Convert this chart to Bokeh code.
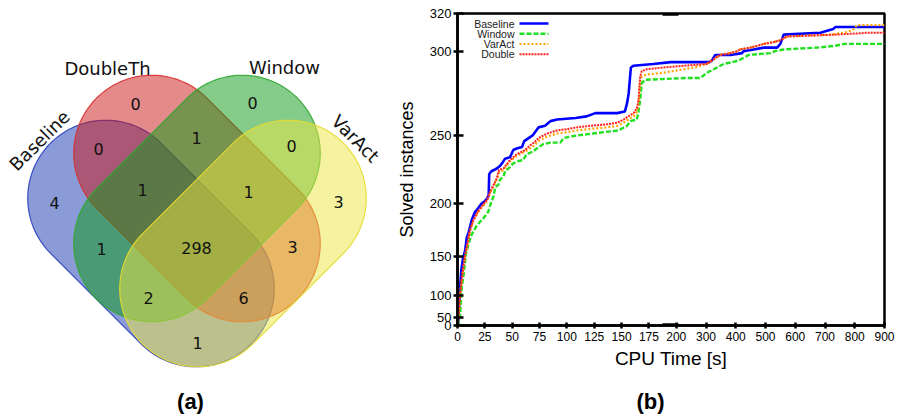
import numpy as np
from bokeh.plotting import figure
from bokeh.layouts import row, column
from bokeh.models import Range1d, FixedTicker, CustomJSTickFormatter, ColumnDataSource
from bokeh.core.properties import value
from bokeh.embed import file_html
from bokeh.resources import INLINE

# ---------------- data: Venn diagram (a) ----------------
set_names = ["Baseline", "DoubleTh", "Window", "VarAct"]
region_keys = ["B", "D", "W", "V", "BD", "DW", "WV", "BDW", "DWV", "BW", "BDWV", "DV", "BWV", "BDV", "BV"]
region_counts = [4, 0, 0, 3, 0, 1, 0, 1, 1, 1, 298, 3, 2, 6, 1]

# ---------------- data: cactus plot (b) ----------------
baseline_t = [0, 0.5, 1, 2, 2.5, 3.5, 5, 7, 8.5, 10, 13, 16, 18, 19.5, 22, 25, 27, 28.5, 29, 31,
              36, 39, 41, 43.5, 48, 51, 54, 59, 61, 65, 67, 69, 71, 74, 80, 85, 91, 108, 118, 126,
              146, 153, 155, 156.5, 158.5, 161, 179, 195, 311, 320, 331, 382, 421, 426, 460, 494, 539, 550, 561, 685,
              707, 728, 735, 900]
baseline_n = [0, 20, 50, 100, 115, 135, 148, 157, 170, 174, 186, 193, 195, 197, 200, 202, 204, 207, 223, 225,
              227, 229, 231, 234, 235, 240, 241, 242, 246, 248, 249, 250, 252, 255, 256, 259, 260, 261, 262, 264,
              264, 265, 270, 276, 291, 292, 293, 294, 294, 295, 298, 298, 299, 300, 301, 302, 302, 304, 309, 310,
              311, 312, 313, 313]

window_t = [0, 0.5, 1, 2.3, 3.2, 4, 5.3, 6.5, 8, 10, 13, 17.5, 24, 28, 30, 33, 34.5, 37.5, 39, 42,
            43.5, 48, 50, 54, 60, 63, 69, 72.5, 78.5, 85, 94, 97, 103, 112, 124, 135, 147, 155, 158, 164,
            165.5, 167, 168.5, 171.5, 236, 281, 303, 326, 337, 360, 388, 410, 444, 516, 530, 561, 673, 735, 764, 900]
window_n = [0, 15, 35, 52, 90, 115, 125, 140, 155, 163, 173, 181, 188, 193, 199, 206, 213, 215, 219, 221,
            225, 228, 230, 232, 233, 237, 239, 241, 244, 245, 245, 248, 249, 250, 251, 252, 253, 256, 259, 260,
            265, 272, 282, 284, 285, 285, 288, 290, 291, 293, 294, 295, 298, 299, 300, 301, 302, 303, 304, 304]

varact_t = [0, 1, 2.3, 3.8, 5.5, 7, 8.4, 11.4, 14.5, 19, 25, 27, 30, 31.3, 36, 38, 42, 48, 54, 62,
            66, 70, 74, 82, 91, 101, 109, 121, 137, 146, 152, 156, 161, 164, 165.5, 167, 168.5, 173, 188, 225,
            260, 303, 320, 348, 382, 404, 415, 449, 472, 494, 528, 550, 561, 573, 720, 763, 786, 797, 808, 900]
varact_n = [0, 55, 100, 121, 139, 151, 159, 176, 185, 193, 200, 202, 209, 211, 219, 224, 226, 232, 236, 239,
            241, 243, 246, 249, 251, 252, 253, 254, 255, 256, 258, 260, 262, 265, 270, 283, 286, 287, 288, 290,
            291, 293, 295, 298, 299, 300, 301, 302, 303, 304, 305, 306, 307, 308, 309, 310, 311, 312, 314, 314]

double_t = [0, 1, 2.3, 3.8, 5.5, 7, 8.4, 11.4, 14.5, 19, 25, 27, 30, 31.3, 36, 38, 42, 48, 54, 62,
            66, 70, 74, 82, 91, 101, 109, 121, 137, 146, 152, 156, 161, 164, 165.5, 167, 168.5, 173, 188, 225,
            303, 320, 348, 382, 404, 415, 449, 472, 494, 528, 550, 561, 573, 740, 850, 900]
double_n = [0, 55, 100, 122, 140, 152, 160, 177, 186, 194, 201, 203, 210, 212, 220, 226, 227, 233, 237, 240,
            243, 245, 248, 251, 253, 254, 255, 256, 257, 258, 260, 262, 264, 267, 272, 286, 289, 290, 291, 292,
            293, 295, 298, 299, 300, 301, 302, 303, 304, 305, 306, 307, 308, 309, 310, 310]

x_ticks = [0, 25, 50, 75, 100, 125, 150, 175, 200, 300, 400, 500, 600, 700, 800, 900]
y_ticks = [0, 50, 100, 150, 200, 250, 300, 320]

series_names = ["Baseline", "Window", "VarAct", "Double"]

# ---------------- styles / layout ----------------
SANS = "Liberation Sans"
VENN_FONT = "DejaVu Sans"

set_fill = {"Baseline": "#1838b0", "DoubleTh": "#cb1515", "Window": "#0b9915", "VarAct": "#ebe541"}
set_line = {"Baseline": "#2a3fc0", "DoubleTh": "#d83030", "Window": "#30a830", "VarAct": "#e6dc30"}
# capsule geometry (page px): centre x, centre y, angle
set_geom = {"Baseline": (150.5, 243.0, np.pi / 4), "DoubleTh": (196.5, 198.0, np.pi / 4),
            "Window": (196.5, 198.0, -np.pi / 4), "VarAct": (242.5, 243.0, -np.pi / 4)}
HALF_LEN, RADIUS = 64.0, 78.0

region_pos = {"B": (54, 202), "D": (135, 103), "W": (252, 102), "V": (338, 201), "BD": (98, 148),
              "DW": (196, 137), "WV": (291, 145), "BDW": (142, 189), "DWV": (248, 191), "BW": (101, 248),
              "BDWV": (196, 247), "DV": (292, 246), "BWV": (148, 297), "BDV": (243, 297), "BV": (197, 342)}
label_pos = {"Baseline": (39, 140, np.pi / 4), "DoubleTh": (107, 68, 0.0),
             "Window": (284, 67, 0.0), "VarAct": (355, 138, -np.pi / 4)}


def capsule(cx, cy, ang, half_len, r, n=80):
    d = np.array([np.cos(ang), np.sin(ang)])
    c1 = np.array([cx, cy]) - half_len * d
    c2 = np.array([cx, cy]) + half_len * d
    a2 = np.linspace(ang - np.pi / 2, ang + np.pi / 2, n)
    a1 = np.linspace(ang + np.pi / 2, ang + 3 * np.pi / 2, n)
    xs = np.concatenate([c2[0] + r * np.cos(a2), c1[0] + r * np.cos(a1)])
    ys = np.concatenate([c2[1] + r * np.sin(a2), c1[1] + r * np.sin(a1)])
    return xs, ys


# ---------------- (a) Venn ----------------
TOP_H = 376
venn = figure(width=390, height=TOP_H, x_range=Range1d(0, 390), y_range=Range1d(TOP_H, 0),
              output_backend="svg", toolbar_location=None, x_axis_type=None, y_axis_type=None,
              min_border=0, frame_align=False)
venn.grid.visible = False
venn.outline_line_color = None

for name in set_names:
    cx, cy, ang = set_geom[name]
    xs, ys = capsule(cx, cy, ang, HALF_LEN, RADIUS)
    venn.patch(xs, ys, fill_color=set_fill[name], fill_alpha=0.5,
               line_color=set_line[name], line_width=1.2, line_alpha=0.9)

rsrc = ColumnDataSource(dict(
    x=[region_pos[k][0] for k in region_keys],
    y=[region_pos[k][1] for k in region_keys],
    t=[str(c) for c in region_counts]))
venn.text("x", "y", text="t", source=rsrc, text_align="center", text_baseline="middle",
          text_font=value(VENN_FONT), text_font_size="16px", text_color="#111111")

for name in set_names:
    lx, ly, la = label_pos[name]
    venn.text([lx], [ly], text=[name], angle=la, text_align="center", text_baseline="middle",
              text_font=value(VENN_FONT), text_font_size="18px", text_color="#111111")

# ---------------- (b) cactus plot ----------------
K = 0.27198          # axis compression beyond 200 s
X_END = 200 + 700 * K
Y_END = 320 ** 2


def xmap(t):
    t = np.asarray(t, dtype=float)
    return np.where(t <= 200, t, 200 + (t - 200) * K)


p = figure(width=510, height=TOP_H, x_range=Range1d(0, X_END), y_range=Range1d(0, Y_END),
           output_backend="svg", toolbar_location=None, frame_align=False,
           min_border_left=67, min_border_right=16, min_border_top=13, min_border_bottom=TOP_H - 325)
p.grid.visible = False
p.outline_line_color = "black"
p.outline_line_width = 2.5

p.xaxis.ticker = FixedTicker(ticks=[float(v) for v in xmap(x_ticks)])
p.xaxis.formatter = CustomJSTickFormatter(args=dict(K=K), code="""
const t = tick <= 200.0001 ? tick : 200 + (tick - 200) / K;
return Math.round(t).toString();""")
p.yaxis.ticker = FixedTicker(ticks=[float(v * v) for v in y_ticks])
p.yaxis.formatter = CustomJSTickFormatter(code="return Math.round(Math.sqrt(tick)).toString();")

for ax in (p.xaxis[0], p.yaxis[0]):
    ax.axis_line_width = 2.5
    ax.major_tick_line_width = 2.5
    ax.minor_tick_line_color = None
    ax.major_label_text_font = SANS
    ax.major_label_text_color = "#000000"
    ax.axis_label_text_font = SANS
    ax.axis_label_text_font_style = "normal"
    ax.axis_label_text_color = "#000000"

p.xaxis.major_tick_in = 3
p.xaxis.major_tick_out = 3
p.xaxis.major_label_standoff = 3
p.xaxis.major_label_text_font_size = "12px"
p.xaxis.axis_label = "CPU Time [s]"
p.xaxis.axis_label_text_font_size = "19px"
p.xaxis.axis_label_standoff = 4

p.yaxis.major_tick_in = 6
p.yaxis.major_tick_out = 4
p.yaxis.major_label_standoff = 2
p.yaxis.major_label_text_font_size = "13px"
p.yaxis.axis_label = "Solved instances"
p.yaxis.axis_label_text_font_size = "18px"
p.yaxis.axis_label_standoff = 10

series = {
    "Baseline": (baseline_t, baseline_n, dict(line_color="#0000ff", line_width=2.6)),
    "Window": (window_t, window_n, dict(line_color="#22e022", line_width=2.4, line_dash="5 2")),
    "VarAct": (varact_t, varact_n, dict(line_color="#ffa500", line_width=2.2, line_dash="2 2")),
    "Double": (double_t, double_n, dict(line_color="#ff2020", line_width=2.0, line_dash="2 1")),
}
for name in ["Baseline", "Window", "VarAct", "Double"]:
    t, n, style = series[name]
    src = ColumnDataSource(dict(x=xmap(t), y=np.square(np.asarray(n, dtype=float))))
    p.line("x", "y", source=src, **style)

# frame geometry on the page (layout only)
FR_L, FR_T, FR_W, FR_H = 457.0, 13.0, 427.0, 312.0


def to_data(px, py):
    return (px - FR_L) / FR_W * X_END, (FR_T + FR_H - py) / FR_H * Y_END


# legend (text left of sample, like the original)
legend_rows = [23.0, 33.3, 43.5, 53.7]
for name, ry in zip(series_names, legend_rows):
    tx, ty = to_data(514, ry)
    x0, _ = to_data(519, ry)
    x1, _ = to_data(548, ry)
    p.text([tx], [ty], text=[name], text_align="right", text_baseline="middle",
           text_font=value(SANS), text_font_size="10.5px", text_color="#222222")
    style = dict(series[name][2])
    p.segment([x0], [ty], [x1], [ty], **style)

# small thick marks at the axis break
bx0, _ = to_data(662, 0)
bx1, _ = to_data(678, 0)
p.segment([bx0, bx0], [0, Y_END], [bx1, bx1], [0, Y_END], line_color="black", line_width=4.5)

# ---------------- captions ----------------
caps = figure(width=900, height=415 - TOP_H, x_range=Range1d(0, 900), y_range=Range1d(415, TOP_H),
              output_backend="svg", toolbar_location=None, x_axis_type=None, y_axis_type=None,
              min_border=0, frame_align=False)
caps.grid.visible = False
caps.outline_line_color = None
caps.text([190, 650], [401, 401], text=["(a)", "(b)"], text_align="center", text_baseline="middle",
          text_font=value(SANS), text_font_size="22px", text_font_style="bold", text_color="#000000")

layout = column(row(venn, p), caps)
open("out.html", "w").write(file_html(layout, INLINE))
